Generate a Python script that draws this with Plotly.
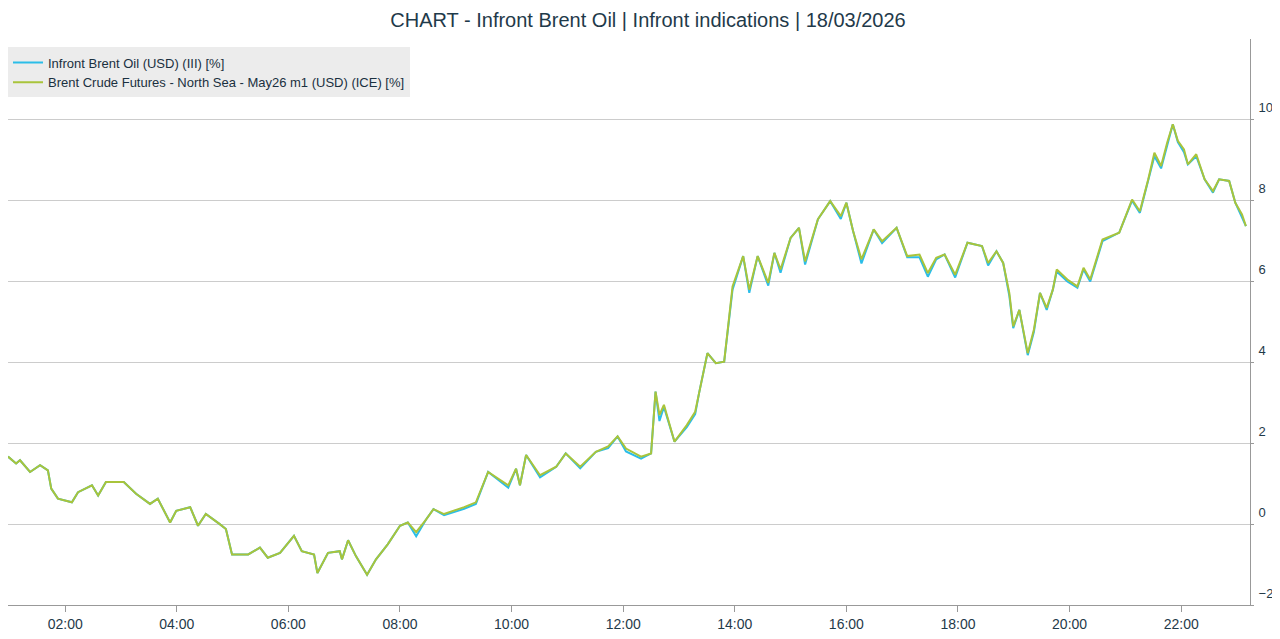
import pandas as pd
import plotly.graph_objects as go

# hours since midnight, 18/03/2026
hours = [0.975, 1.12, 1.19, 1.37, 1.55, 1.69, 1.75, 1.87, 2.12, 2.23, 2.48, 2.59, 2.73, 3.05,
         3.27, 3.52, 3.66, 3.88, 3.99, 4.24, 4.38, 4.52, 4.77, 4.88, 4.99, 5.28, 5.49, 5.63,
         5.85, 6.10, 6.24, 6.46, 6.52, 6.71, 6.92, 6.96, 7.07, 7.21, 7.41, 7.57, 7.78, 8.00,
         8.14, 8.29, 8.47, 8.60, 8.79, 9.15, 9.36, 9.58, 9.94, 10.08, 10.15, 10.26, 10.51,
         10.80, 10.97, 11.23, 11.51, 11.73, 11.90, 12.05, 12.32, 12.50, 12.58, 12.65, 12.73,
         12.92, 13.14, 13.29, 13.36, 13.51, 13.66, 13.81, 13.96, 14.15, 14.26, 14.41, 14.60,
         14.71, 14.82, 15.00, 15.15, 15.26, 15.49, 15.71, 15.90, 16.00, 16.12, 16.27, 16.49,
         16.64, 16.90, 17.09, 17.31, 17.46, 17.61, 17.76, 17.95, 18.17, 18.43, 18.54, 18.69,
         18.81, 18.92, 18.99, 19.10, 19.25, 19.36, 19.47, 19.59, 19.70, 19.77, 19.96, 20.14,
         20.25, 20.37, 20.59, 20.89, 21.12, 21.26, 21.41, 21.52, 21.64, 21.75, 21.85, 21.94,
         22.05, 22.12, 22.27, 22.42, 22.57, 22.68, 22.86, 22.97, 23.09, 23.16]

brent_futures = [1.67, 1.5, 1.58, 1.29, 1.46, 1.33, 0.88, 0.63, 0.54, 0.79, 0.96, 0.71, 1.04, 1.04,
                 0.75, 0.5, 0.63, 0.04, 0.33, 0.42, -0.04, 0.25, 0.0, -0.12, -0.75, -0.75, -0.58,
                 -0.83, -0.71, -0.29, -0.67, -0.75, -1.21, -0.71, -0.67, -0.87, -0.4, -0.79,
                 -1.25, -0.87, -0.5, -0.04, 0.04, -0.2, 0.12, 0.37, 0.25, 0.42, 0.54, 1.29,
                 0.96, 1.37, 0.96, 1.71, 1.21, 1.42, 1.75, 1.42, 1.79, 1.92, 2.17, 1.87, 1.67,
                 1.75, 3.28, 2.7, 2.95, 2.04, 2.45, 2.78, 3.24, 4.23, 3.98, 4.02, 5.88, 6.63,
                 5.8, 6.63, 5.97, 6.71, 6.3, 7.08, 7.33, 6.5, 7.54, 7.99, 7.62, 7.95, 7.25, 6.55,
                 7.29, 7.0, 7.33, 6.63, 6.67, 6.21, 6.59, 6.67, 6.17, 6.96, 6.88, 6.46, 6.75,
                 6.46, 5.72, 4.89, 5.3, 4.23, 4.81, 5.72, 5.35, 5.8, 6.3, 6.05, 5.88, 6.34,
                 6.05, 7.04, 7.21, 8.03, 7.74, 8.53, 9.19, 8.86, 9.44, 9.89, 9.48, 9.27, 8.9,
                 9.15, 8.53, 8.24, 8.53, 8.49, 7.95, 7.66, 7.37]

infront_oil = [1.67, 1.5, 1.58, 1.29, 1.46, 1.33, 0.88, 0.63, 0.54, 0.79, 0.96, 0.71, 1.04, 1.04,
               0.75, 0.5, 0.63, 0.04, 0.33, 0.42, -0.04, 0.25, 0.0, -0.12, -0.75, -0.75, -0.58,
               -0.83, -0.71, -0.29, -0.67, -0.75, -1.21, -0.71, -0.67, -0.87, -0.4, -0.79,
               -1.25, -0.87, -0.5, -0.04, 0.04, -0.3, 0.12, 0.37, 0.22, 0.38, 0.5, 1.29,
               0.9, 1.37, 0.96, 1.71, 1.16, 1.42, 1.75, 1.38, 1.79, 1.88, 2.17, 1.8, 1.62,
               1.75, 3.28, 2.55, 2.9, 2.04, 2.4, 2.72, 3.24, 4.23, 3.98, 4.02, 5.8, 6.63,
               5.72, 6.63, 5.9, 6.71, 6.22, 7.08, 7.33, 6.42, 7.54, 7.99, 7.55, 7.95, 7.25, 6.45,
               7.29, 6.95, 7.33, 6.6, 6.6, 6.12, 6.55, 6.67, 6.1, 6.96, 6.88, 6.4, 6.75,
               6.46, 5.65, 4.85, 5.3, 4.18, 4.75, 5.72, 5.3, 5.8, 6.25, 6.0, 5.85, 6.3,
               6.0, 7.0, 7.21, 8.0, 7.7, 8.53, 9.1, 8.8, 9.4, 9.89, 9.45, 9.2, 8.9,
               9.1, 8.53, 8.2, 8.53, 8.49, 7.95, 7.6, 7.37]

times = pd.Timestamp('2026-03-18') + pd.to_timedelta(hours, unit='h')

fig = go.Figure()
fig.add_trace(go.Scatter(x=times, y=infront_oil, mode='lines',
                         name='Infront Brent Oil (USD) (III) [%]',
                         line=dict(color='#2bbde8', width=2)))
fig.add_trace(go.Scatter(x=times, y=brent_futures, mode='lines',
                         name='Brent Crude Futures - North Sea - May26 m1 (USD) (ICE) [%]',
                         line=dict(color='#a9c43b', width=2)))

fig.update_layout(
    width=1280, height=639,
    margin=dict(l=0, r=38, t=31, b=42),
    paper_bgcolor='white', plot_bgcolor='white',
    font=dict(family='Liberation Sans, Arial', size=14, color='#1f3a4a'),
    title=dict(text='CHART - Infront Brent Oil | Infront indications | 18/03/2026',
               x=0.5, xanchor='center', y=0.992, yanchor='top',
               font=dict(size=20, color='#1f3a4a')),
    legend=dict(x=0.0, y=0.985, xanchor='left', yanchor='top',
                bgcolor='#ececec', font=dict(size=13, color='#1a3040'),
                itemwidth=30, tracegroupgap=0),
    showlegend=True,
)
fig.update_xaxes(range=[times[0], pd.Timestamp('2026-03-18 23:14')],
                 tickformat='%H:%M', dtick=2 * 3600 * 1000,
                 tick0='2026-03-18 02:00',
                 showgrid=False, showline=True, linecolor='#999999', linewidth=1,
                 ticks='outside', ticklen=6, tickcolor='#999999')
fig.update_yaxes(range=[-2, 12], side='right',
                 tickvals=[-2, 0, 2, 4, 6, 8, 10],
                 showgrid=True, gridcolor='#cccccc', gridwidth=1,
                 showline=True, linecolor='#999999', linewidth=1,
                 ticks='outside', ticklen=3, tickcolor='#999999',
                 ticklabelstandoff=2, ticklabelshift=-12,
                 tickfont=dict(size=13), zeroline=False)

fig.write_html("out.html")
